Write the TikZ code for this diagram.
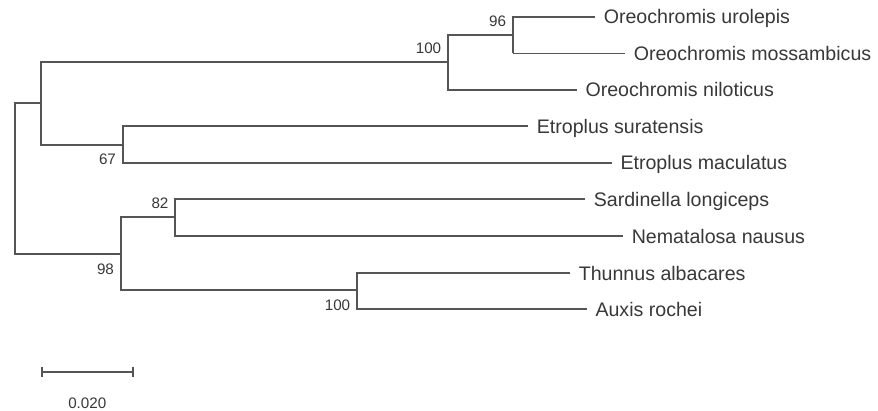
\documentclass[tikz,border=0pt]{standalone}
\usepackage{fontspec}
\setmainfont{Liberation Sans}
\definecolor{treeline}{HTML}{555555}
\definecolor{treetext}{HTML}{383838}
\tikzset{
  branch/.style={draw=treeline, line width=1pt},
  thinbranch/.style={draw=treeline, line width=0.5pt},
  leaf/.style={anchor=base west, inner sep=0pt, xshift=4.2pt, yshift=-3.5pt,
    text=treetext, font=\fontsize{9.8}{11}\selectfont},
  boot/.style={inner sep=0pt, text=treetext, font=\fontsize{7.6}{9}\selectfont}
}
\begin{document}
\begin{tikzpicture}[x=0.5pt,y=-0.5pt]
\useasboundingbox (0,0) rectangle (878,411);
% leaf tips
\coordinate (uro) at (595,17);
\coordinate (mos) at (625,53.3);
\coordinate (nil) at (576.7,89.6);
\coordinate (sur) at (528,126.5);
\coordinate (mac) at (611.7,163);
\coordinate (sar) at (585,199.5);
\coordinate (nem) at (623,236.5);
\coordinate (thu) at (570,273);
\coordinate (aux) at (586.7,309.3);
% internal nodes
\coordinate (n96) at (513.3,35.2);
\coordinate (nOre) at (448,62);
\coordinate (n67) at (123.3,144.8);
\coordinate (nCich) at (41,103);
\coordinate (n82) at (175,217.5);
\coordinate (nThu) at (357.3,290.5);
\coordinate (n98) at (120.7,254);
\coordinate (root) at (14.7,178);
% branches
\draw[branch] (n96) |- (uro);
\draw[branch] (n96) -- (n96 |- mos);
\draw[thinbranch] (n96 |- mos) -- (mos);
\draw[branch] (nOre) |- (n96);
\draw[branch] (nOre) |- (nil);
\draw[branch] (n67) |- (sur);
\draw[branch] (n67) |- (mac);
\draw[branch] (nCich) |- (nOre);
\draw[branch] (nCich) |- (n67);
\draw[branch] (n82) |- (sar);
\draw[branch] (n82) |- (nem);
\draw[branch] (nThu) |- (thu);
\draw[branch] (nThu) |- (aux);
\draw[branch] (n98) |- (n82);
\draw[branch] (n98) |- (nThu);
\draw[branch] (root) |- (nCich);
\draw[branch] (root) |- (n98);
% leaf labels
\node[leaf] (Luro) at (uro) {Oreochromis urolepis};
\node[leaf] (Lmos) at (mos) {Oreochromis mossambicus};
\node[leaf] (Lnil) at (nil) {Oreochromis niloticus};
\node[leaf] (Lsur) at (sur) {Etroplus suratensis};
\node[leaf] (Lmac) at (mac) {Etroplus maculatus};
\node[leaf] (Lsar) at (sar) {Sardinella longiceps};
\node[leaf] (Lnem) at (nem) {Nematalosa nausus};
\node[leaf] (Lthu) at (thu) {Thunnus albacares};
\node[leaf] (Laux) at (aux) {Auxis rochei};
% bootstrap values
\node[boot] (b96) at (497.5,21) {96};
\node[boot] (bOre) at (428.5,48.5) {100};
\node[boot] (b67) at (107.5,159) {67};
\node[boot] (b82) at (160,203) {82};
\node[boot] (b98) at (105.5,269) {98};
\node[boot] (bThu) at (337.5,305) {100};
% scale bar
\coordinate (sbL) at (41.5,371.5);
\coordinate (sbR) at (133.3,371.5);
\draw[branch] (sbL) -- (sbR);
\draw[branch] ([yshift=2.5pt]sbL) -- ([yshift=-2.5pt]sbL);
\draw[branch] ([yshift=2.5pt]sbR) -- ([yshift=-2.5pt]sbR);
\node[boot] (sbText) at (87.3,403) {0.020};
\end{tikzpicture}
\end{document}
